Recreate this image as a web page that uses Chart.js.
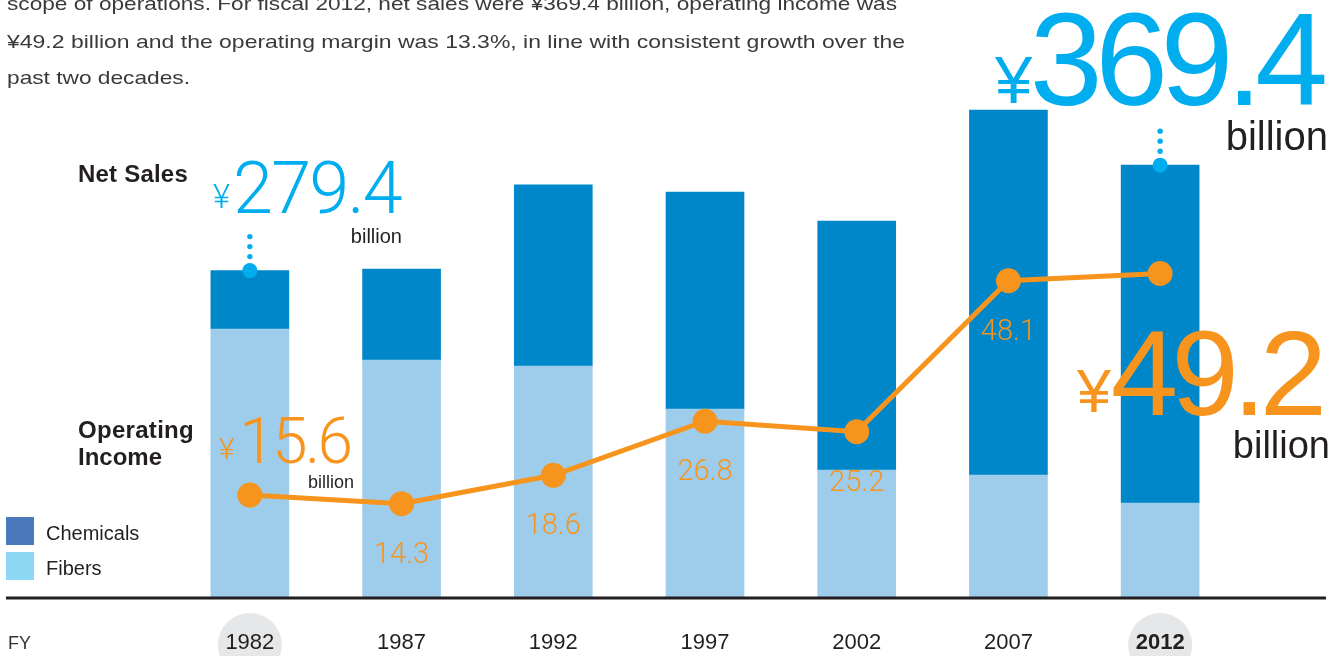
<!DOCTYPE html>
<html>
<head>
<meta charset="utf-8">
<script src="https://cdn.jsdelivr.net/npm/chart.js@4.4.1/dist/chart.umd.min.js"></script>
<style>
html, body { margin: 0; padding: 0; background: #fff; }
#wrap { position: relative; width: 1344px; height: 656px; overflow: hidden; }
#chart { position: absolute; left: 0; top: 0; }
.t { position: absolute; line-height: 1; white-space: nowrap; font-family: "Liberation Sans", Arial, sans-serif; color: #231f20; }
.sq { position: absolute; width: 28px; height: 28px; }
</style>
</head>
<body>
<div id="wrap">
    <canvas id="chart" width="1344" height="656"></canvas>
</div>
<script>
const years = ["1982", "1987", "1992", "1997", "2002", "2007", "2012"]
const fibers = [229.6, 203.1, 198.0, 161.3, 109.2, 105.0, 81.1]
const chemicals = [49.8, 77.7, 154.5, 185.2, 212.5, 311.5, 288.3]
const operatingIncome = [15.6, 14.3, 18.6, 26.8, 25.2, 48.1, 49.2]

const CYAN = "#00aeef"
const ORANGE = "#f7941d"
const DARK = "#0087c9"
const LIGHT = "#9ecdec"
const INK = "#231f20"

const wrap = document.getElementById("wrap")
const ajustes = []

function netSales(i){
    return (fibers[i] + chemicals[i]).toFixed(1)
}

function addText(txt, o){
    const el = document.createElement("div")
    el.className = "t"
    el.textContent = txt
    el.style.fontSize = o.size + "px"
    if(o.family){ el.style.fontFamily = o.family }
    if(o.weight){ el.style.fontWeight = o.weight }
    if(o.color){ el.style.color = o.color }
    const k = o.family && o.family.indexOf("Roboto") >= 0 ? 0.83 : 0.815
    el.style.top = (o.base - k * o.size) + "px"
    if(o.left !== undefined){
        el.style.left = o.left + "px"
    } else {
        el.style.right = (1344 - o.right) + "px"
    }
    wrap.appendChild(el)
    if(o.width){
        ajustes.push({ el, o })
    }
    return el
}

// encaixa a largura do texto na medida da referencia
function ajustarLarguras(){
    ajustes.forEach(a => {
        const w = a.el.getBoundingClientRect().width
        if(a.o.stretch){
            a.el.style.transformOrigin = "0 0"
            a.el.style.transform = `scaleX(${a.o.width / w})`
            return
        }
        const n = a.el.textContent.length
        const ls = (a.o.width - w) / n
        a.el.style.letterSpacing = ls + "px"
        if(a.o.right !== undefined){
            a.el.style.right = (1344 - a.o.right - ls) + "px"
        }
    })
}

const last = years.length - 1
const first = 0
const margem = (operatingIncome[last] / Number(netSales(last)) * 100).toFixed(1)
const ROBOTO = "Roboto, sans-serif"

// paragrafo do topo
addText(`scope of operations. For fiscal ${years[last]}, net sales were ¥${netSales(last)} billion, operating income was`,
    { size: 19, left: 7, base: 9, color: "#3a3a3a", width: 890, stretch: true })
addText(`¥${operatingIncome[last]} billion and the operating margin was ${margem}%, in line with consistent growth over the`,
    { size: 19, left: 7, base: 47, color: "#3a3a3a", width: 898, stretch: true })
addText("past two decades.", { size: 19, left: 7, base: 83, color: "#3a3a3a", width: 183, stretch: true })

// titulos
addText("Net Sales", { size: 24, weight: "bold", left: 78, base: 182, width: 110 })
addText("Operating", { size: 24, weight: "bold", left: 78, base: 438, width: 116 })
addText("Income", { size: 24, weight: "bold", left: 78, base: 465 })

// vendas 1982
addText("¥", { size: 33, family: ROBOTO, weight: 300, left: 213, base: 207, color: CYAN })
addText(netSales(first), { size: 72, family: ROBOTO, weight: 300, left: 233, base: 213, color: CYAN, width: 168 })
addText("billion", { size: 20, right: 402, base: 242 })

// vendas 2012
addText("¥", { size: 67, left: 995, base: 101, color: CYAN })
addText(netSales(last), { size: 131, right: 1328, base: 101, color: CYAN, width: 291 })
addText("billion", { size: 40, right: 1328, base: 149 })

// lucro 2012
addText("¥", { size: 61, left: 1077, base: 411, color: ORANGE })
addText(operatingIncome[last].toFixed(1), { size: 121, right: 1327, base: 412, color: ORANGE, width: 210 })
addText("billion", { size: 38, right: 1330, base: 457 })

// lucro 1982
addText("¥", { size: 30, family: ROBOTO, weight: 300, left: 219, base: 459, color: ORANGE })
addText(operatingIncome[first].toFixed(1), { size: 64, family: ROBOTO, weight: 300, right: 353, base: 463, color: ORANGE, width: 111 })
addText("billion", { size: 18, right: 354, base: 488 })

// legenda
const legenda = [["Chemicals", "#4a78bc", 517], ["Fibers", "#8dd8f5", 552]]
legenda.forEach(l => {
    const sq = document.createElement("div")
    sq.className = "sq"
    sq.style.left = "6px"
    sq.style.top = l[2] + "px"
    sq.style.background = l[1]
    wrap.appendChild(sq)
    addText(l[0], { size: 20, left: 46, base: l[2] + 22 })
})

addText("FY", { size: 18, left: 8, base: 649, color: "#333" })

ajustarLarguras()

const destaque = [first, last]

const decor = {
    id: "decor",
    beforeDraw(chart){
        const c = chart.ctx
        const x = chart.scales.x
        c.save()
        c.fillStyle = "#e6e7e8"
        destaque.forEach(i => {
            c.beginPath()
            c.arc(x.getPixelForValue(i), chart.chartArea.bottom + 47, 32, 0, Math.PI * 2)
            c.fill()
        })
        c.restore()
    },
    afterDatasetsDraw(chart){
        const c = chart.ctx
        const area = chart.chartArea
        c.save()

        // linha base
        c.fillStyle = INK
        c.fillRect(6, area.bottom - 1.5, 1320, 3)

        // pontinhos sobre as barras de 1982 e 2012
        const topo = chart.getDatasetMeta(2)
        c.fillStyle = CYAN
        destaque.forEach(i => {
            const b = topo.data[i]
            c.beginPath()
            c.arc(b.x, b.y, 7.5, 0, Math.PI * 2)
            c.fill()
            ;[14, 24, 34].forEach(dy => {
                c.beginPath()
                c.arc(b.x, b.y - dy, 2.7, 0, Math.PI * 2)
                c.fill()
            })
        })

        // valores do lucro
        const linha = chart.getDatasetMeta(0)
        c.fillStyle = ORANGE
        c.font = "300 29px Roboto, sans-serif"
        c.textAlign = "center"
        c.textBaseline = "alphabetic"
        linha.data.forEach((p, i) => {
            if(i === first || i === last){
                return
            }
            c.fillText(operatingIncome[i].toFixed(1), p.x, p.y + 59)
        })
        c.restore()
    }
}

new Chart(document.getElementById("chart"), {
    data: {
        labels: years,
        datasets: [
            {
                type: "line",
                label: "Operating Income",
                data: operatingIncome,
                yAxisID: "y2",
                order: 0,
                borderColor: ORANGE,
                backgroundColor: ORANGE,
                borderWidth: 5,
                pointRadius: 12.5,
                pointHoverRadius: 12.5,
                pointBorderWidth: 0,
                pointBackgroundColor: ORANGE,
                tension: 0
            },
            { type: "bar", label: "Fibers", data: fibers, backgroundColor: LIGHT, stack: "s", order: 1, barThickness: 78 },
            { type: "bar", label: "Chemicals", data: chemicals, backgroundColor: DARK, stack: "s", order: 1, barThickness: 78 }
        ]
    },
    options: {
        responsive: false,
        animation: false,
        devicePixelRatio: 1,
        layout: { padding: { left: 174, right: 108, top: 100, bottom: 0 } },
        plugins: { legend: { display: false }, tooltip: { enabled: false } },
        scales: {
            x: {
                stacked: true,
                grid: { display: false, drawTicks: false },
                border: { display: false },
                afterFit(scale){
                    scale.height = 58
                },
                ticks: {
                    padding: 32,
                    maxRotation: 0,
                    autoSkip: false,
                    color: INK,
                    font: ctx => ({
                        family: "'Liberation Sans', Arial, sans-serif",
                        size: 22,
                        weight: ctx.index === last ? "bold" : "normal"
                    })
                }
            },
            y: { stacked: true, display: false, min: 0, max: 425 },
            y2: { display: false, min: 0, max: 75.5 }
        }
    },
    plugins: [decor]
})
</script>
</body>
</html>
